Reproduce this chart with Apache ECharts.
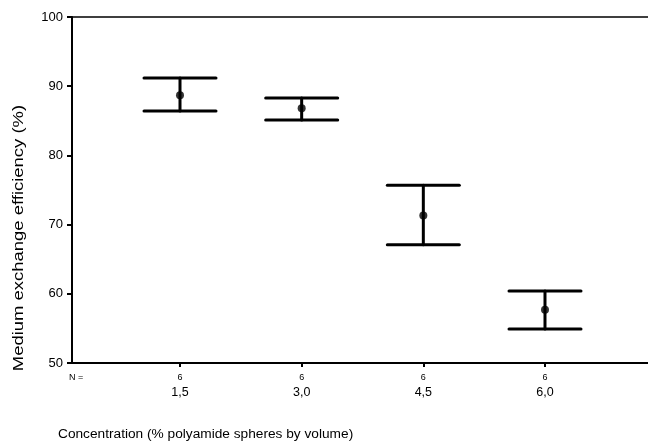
<!DOCTYPE html>
<html><head><meta charset="utf-8">
<script src="https://cdn.jsdelivr.net/npm/echarts@6/dist/echarts.min.js"></script>
<style>html,body{margin:0;padding:0;background:#fff}#c{width:648px;height:445px}</style>
</head><body><div id="c"></div>
<script>
const categories = [1.5, 3.0, 4.5, 6.0];
const categoryLabels = ['1,5', '3,0', '4,5', '6,0'];
const nValues = [6, 6, 6, 6];
const means = [88.7, 86.8, 71.3, 57.7];
const lows = [86.4, 85.1, 67.1, 54.9];
const highs = [91.2, 88.3, 75.7, 60.4];
const yTicks = [50, 60, 70, 80, 90, 100];

const font = 'Liberation Sans, Arial, sans-serif';
const chart = echarts.init(document.getElementById('c'));
const barData = categories.map((c, i) => [c, lows[i], highs[i]]);
const meanData = categories.map((c, i) => [c, means[i]]);
const labelMap = {};
categories.forEach((c, i) => { labelMap[c] = '{n|' + nValues[i] + '}\n{c|' + categoryLabels[i] + '}'; });

chart.setOption({
  animation: false,
  grid: { left: 72, right: 0, top: 17, bottom: 82 },
  xAxis: [{
    type: 'value', min: 0.1685, max: 7.27,
    splitLine: { show: false },
    axisLine: { lineStyle: { color: '#000', width: 2 } },
    axisTick: { show: true, length: 4, lineStyle: { color: '#000', width: 2 }, customValues: categories },
    axisLabel: {
      customValues: categories,
      formatter: v => labelMap[v] || '',
      margin: 7,
      rich: {
        n: { fontSize: 9, fontFamily: font, color: '#000', lineHeight: 15 },
        c: { fontSize: 12.5, fontFamily: font, color: '#000', lineHeight: 15 }
      }
    }
  }, {
    type: 'value', position: 'top', min: 0.1685, max: 7.27,
    axisLine: { show: true, lineStyle: { color: '#000', width: 1.5 } },
    axisTick: { show: false }, axisLabel: { show: false }, splitLine: { show: false }
  }],
  yAxis: {
    type: 'value', min: 50, max: 100, interval: 10,
    splitLine: { show: false },
    axisLine: { show: true, lineStyle: { color: '#000', width: 2 } },
    axisTick: { show: true, length: 5, lineStyle: { color: '#000', width: 2 } },
    axisLabel: { fontSize: 13, fontFamily: font, color: '#000', margin: 9 }
  },
  graphic: [
    { type: 'text', left: 69, top: 373, style: { text: 'N =', fontSize: 9, fontFamily: font, fill: '#000' } },
    { type: 'text', left: 58, top: 427, style: { text: 'Concentration (% polyamide spheres by volume)', fontSize: 13.7, fontFamily: font, fill: '#000' } },
    { type: 'text', x: 19, y: 238, rotation: Math.PI / 2, scaleX: 1.23, style: { text: 'Medium exchange efficiency (%)', fontSize: 15, fontFamily: font, fill: '#000', align: 'center', verticalAlign: 'middle' } }
  ],
  series: [{
    type: 'custom',
    data: barData,
    renderItem: (params, api) => {
      const x = api.value(0);
      const lo = api.coord([x, api.value(1)]);
      const hi = api.coord([x, api.value(2)]);
      const hw = 36;
      const st = { stroke: '#000', lineWidth: 3, lineCap: 'round' };
      return { type: 'group', children: [
        { type: 'line', shape: { x1: hi[0], y1: hi[1], x2: lo[0], y2: lo[1] }, style: st },
        { type: 'line', shape: { x1: hi[0] - hw, y1: hi[1], x2: hi[0] + hw, y2: hi[1] }, style: st },
        { type: 'line', shape: { x1: lo[0] - hw, y1: lo[1], x2: lo[0] + hw, y2: lo[1] }, style: st }
      ]};
    }
  }, {
    type: 'scatter', data: meanData, symbol: 'circle', symbolSize: 8,
    itemStyle: { color: '#000' }
  }]
});
</script></body></html>
